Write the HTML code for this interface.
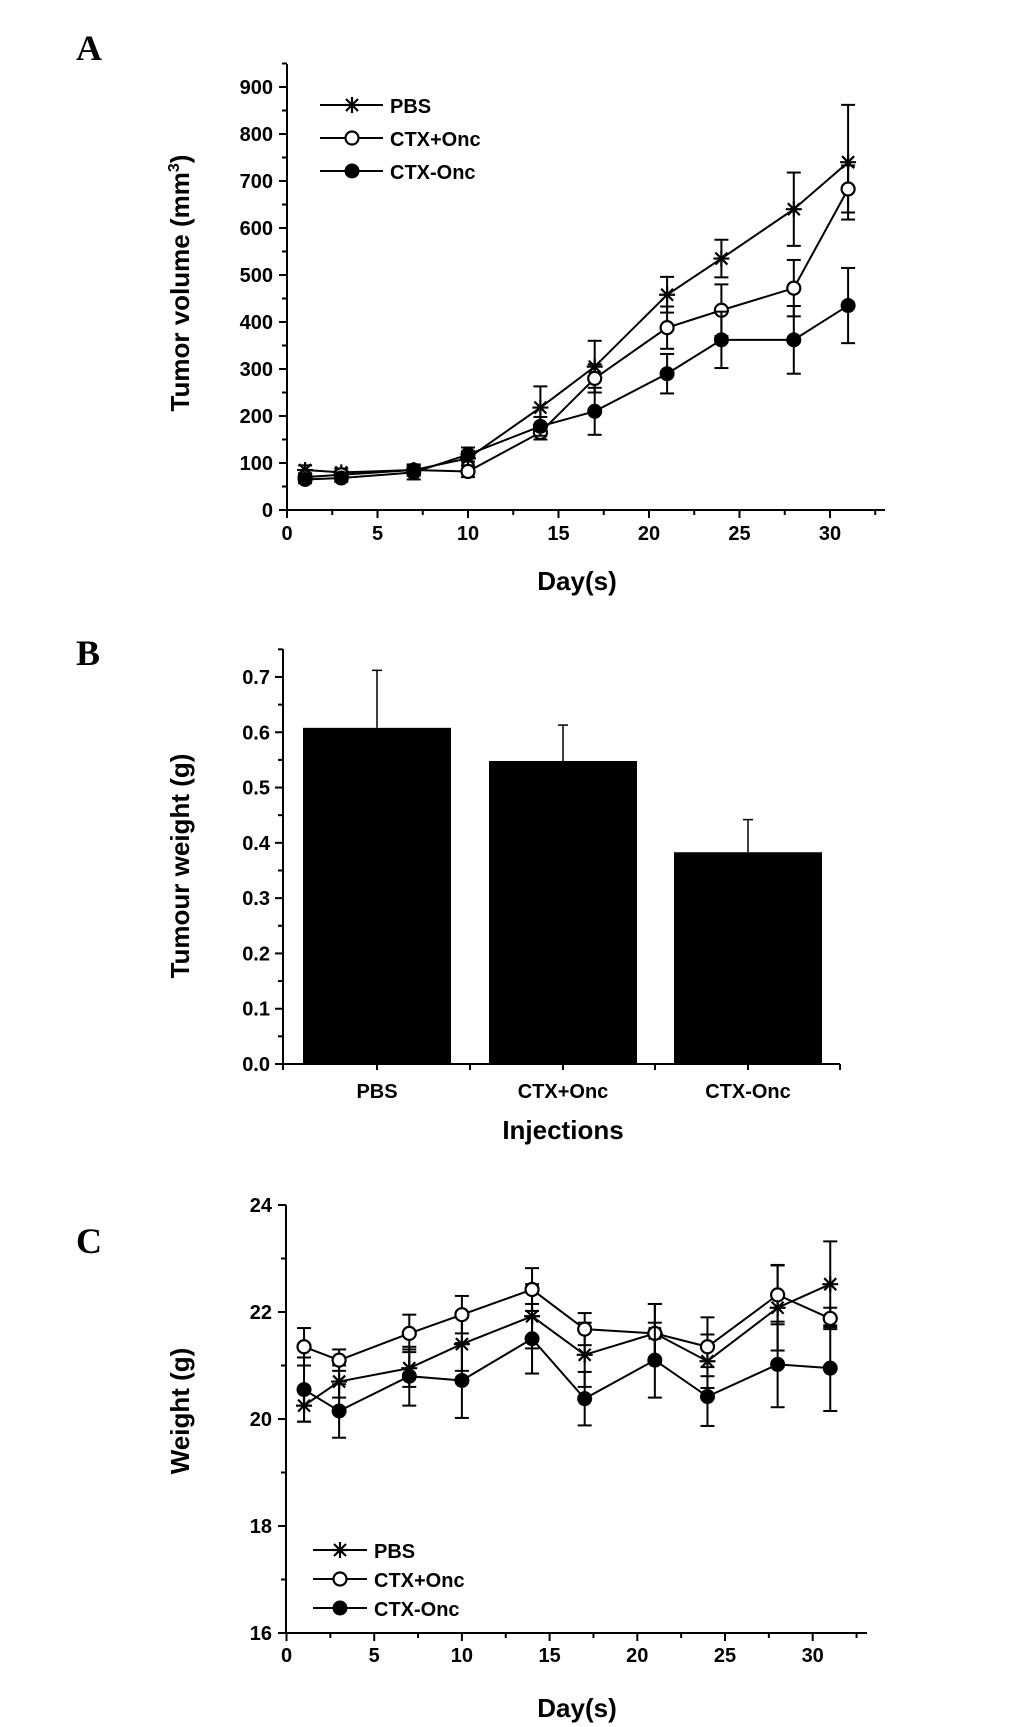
<!DOCTYPE html>
<html><head><meta charset="utf-8"><style>
html,body{margin:0;padding:0;background:#fff;}
svg{display:block;}
text{font-family:"Liberation Sans",sans-serif;font-weight:bold;fill:#000;}
.tk{font-size:20px;}
.ttl{font-size:26px;}
.pl{font-family:"Liberation Serif",serif;font-size:36px;}
</style></head><body>
<svg id="fig" width="1033" height="1727" viewBox="0 0 1033 1727" xmlns="http://www.w3.org/2000/svg">
<text class="pl" x="76" y="60">A</text>
<text class="pl" x="76" y="665">B</text>
<text class="pl" x="76" y="1253">C</text>
<g id="gA"></g>
<g id="gB"></g>
<g id="gC"></g>
</svg>
<script>
const days = [1,3,7,10,14,17,21,24,28,31];
const seriesNames = ["PBS","CTX+Onc","CTX-Onc"];
const volPBS = [85,80,85,110,218,305,458,535,640,740];
const volPBSErr = [10,8,12,15,45,55,38,40,78,122];
const volCtxOn = [70,75,85,82,165,280,388,425,472,683];
const volCtxOnErr = [8,8,10,12,15,30,45,55,60,50];
const volCtxOff = [65,68,80,118,178,210,290,362,362,435];
const volCtxOffErr = [8,8,15,15,20,50,42,60,72,80];
const volTicks = [0,100,200,300,400,500,600,700,800,900];
const dayTicks = [0,5,10,15,20,25,30];
const barCats = ["PBS","CTX+Onc","CTX-Onc"];
const barVals = [0.608,0.548,0.383];
const barErr = [0.104,0.065,0.059];
const wTicks = ["0.0","0.1","0.2","0.3","0.4","0.5","0.6","0.7"];
const wtPBS = [20.25,20.7,20.95,21.4,21.92,21.2,21.6,21.08,22.08,22.52];
const wtPBSErr = [0.3,0.3,0.35,0.5,0.6,0.6,0.55,0.5,0.8,0.8];
const wtCtxOn = [21.35,21.1,21.6,21.95,22.42,21.68,21.6,21.35,22.32,21.88];
const wtCtxOnErr = [0.35,0.2,0.35,0.35,0.4,0.3,0.55,0.55,0.55,0.2];
const wtCtxOff = [20.55,20.15,20.8,20.72,21.5,20.38,21.1,20.42,21.02,20.95];
const wtCtxOffErr = [0.6,0.5,0.55,0.7,0.65,0.5,0.7,0.55,0.8,0.8];
const bwTicks = [16,18,20,22,24];

const NS="http://www.w3.org/2000/svg";
function mk(parent,tag,attrs){const e=document.createElementNS(NS,tag);for(const k in attrs)e.setAttribute(k,attrs[k]);parent.appendChild(e);return e;}
function line(p,x1,y1,x2,y2,w){return mk(p,"line",{x1:x1,y1:y1,x2:x2,y2:y2,stroke:"#000","stroke-width":w||2});}
function txt(p,x,y,s,cls,anchor){const t=mk(p,"text",{x:x,y:y,class:cls,"text-anchor":anchor||"middle"});t.textContent=s;return t;}
function marker(p,kind,x,y){
  let g=mk(p,"g",{});
  if(kind===0){
    line(g,x-8,y,x+8,y,2.2);line(g,x,y-8,x,y+8,2.2);
    line(g,x-6,y-6,x+6,y+6,2.2);line(g,x-6,y+6,x+6,y-6,2.2);
  } else if(kind===1){
    mk(g,"circle",{cx:x,cy:y,r:6.5,fill:"#fff",stroke:"#000","stroke-width":2.2});
  } else {
    mk(g,"circle",{cx:x,cy:y,r:7.5,fill:"#000"});
  }
  return g;
}
function errbar(p,x,y1,y2){line(p,x,y1,x,y2,2);line(p,x-7,y1,x+7,y1,2);line(p,x-7,y2,x+7,y2,2);}

/* Panel A */
(function(){
  const g=document.getElementById("gA");
  const X=d=>287+d*18.1, Y=v=>510-v*0.47;
  const ax=line(g,287,64,287,510);
  
  
  const bx=line(g,287,510,885,510);
  
  
  for(let v=0;v<=950;v+=50){line(g,287,Y(v),v%100===0?279:282,Y(v),2);}
  volTicks.forEach(v=>{const t=txt(g,273,Y(v)+7,String(v),"tk","end");
    
    });
  for(let d=0;d<=32.5;d+=2.5){line(g,X(d),510,X(d),d%5===0?518:515,2);}
  dayTicks.forEach(d=>{const t=txt(g,X(d),540,String(d),"tk");
    
    });
  const yt=txt(g,0,0,"","ttl");
  yt.setAttribute("transform","translate(189,283) rotate(-90)");
  yt.innerHTML='Tumor volume (mm<tspan dy="-10" font-size="16">3</tspan><tspan dy="10">)</tspan>';
  
  
  const xt=txt(g,577,590,"Day(s)","ttl");
  
  
  const vals=[volPBS,volCtxOn,volCtxOff], errs=[volPBSErr,volCtxOnErr,volCtxOffErr];
  vals.forEach((s,k)=>{
    const sg=mk(g,"g",{});
    
    
    mk(sg,"polyline",{points:days.map((d,i)=>X(d)+","+Y(s[i])).join(" "),fill:"none",stroke:"#000","stroke-width":2});
    days.forEach((d,i)=>errbar(sg,X(d),Y(s[i]+errs[k][i]),Y(s[i]-errs[k][i])));
    days.forEach((d,i)=>marker(sg,k,X(d),Y(s[i])));
  });
  const ly=[105,138,171];
  seriesNames.forEach((n,k)=>{
    const lg=mk(g,"g",{});
    
    
    line(lg,320,ly[k],383,ly[k],2);marker(lg,k,352,ly[k]);
    txt(lg,390,ly[k]+8,n,"tk","start").setAttribute("font-size","22");
  });
})();

/* Panel B */
(function(){
  const g=document.getElementById("gB");
  const Y=v=>1064-v*552.9;
  const cx=[377,563,748];
  const ax=line(g,283,649,283,1064);
  
  
  const bx=line(g,283,1064,840,1064);
  
  
  for(let i=0;i<=15;i++){const v=i*0.05;line(g,283,Y(v),i%2===0?275:278,Y(v),2);}
  wTicks.forEach(s=>{const t=txt(g,270,Y(parseFloat(s))+7,s,"tk","end");
    
    });
  [283,470,655,840].forEach(x=>line(g,x,1064,x,1070,2));
  barCats.forEach((c,i)=>{
    const r=mk(g,"rect",{x:cx[i]-74,y:Y(barVals[i]),width:148,height:Y(0)-Y(barVals[i]),fill:"#000"});
    
    
    line(g,cx[i],Y(barVals[i]),cx[i],Y(barVals[i]+barErr[i]),1.5);
    line(g,cx[i]-5,Y(barVals[i]+barErr[i]),cx[i]+5,Y(barVals[i]+barErr[i]),1.5);
    line(g,cx[i],1064,cx[i],1070,2);
    const t=txt(g,cx[i],1098,c,"tk");
    
    
  });
  const yt=txt(g,0,0,"Tumour weight (g)","ttl");
  yt.setAttribute("transform","translate(189,866) rotate(-90)");
  
  
  const xt=txt(g,563,1139,"Injections","ttl");
  
  
})();

/* Panel C */
(function(){
  const g=document.getElementById("gC");
  const X=d=>286.5+d*17.54, Y=v=>1205+(24-v)*53.5;
  const ax=line(g,286,1205,286,1633);
  
  
  const bx=line(g,286,1633,867,1633);
  
  
  for(let v=16;v<=24;v++){line(g,286,Y(v),v%2===0?278:281,Y(v),2);}
  bwTicks.forEach(v=>{const t=txt(g,272,Y(v)+7,String(v),"tk","end");
    
    });
  for(let d=0;d<=32.5;d+=2.5){line(g,X(d),1633,X(d),d%5===0?1641:1638,2);}
  dayTicks.forEach(d=>{const t=txt(g,X(d),1662,String(d),"tk");
    
    });
  const yt=txt(g,0,0,"Weight (g)","ttl");
  yt.setAttribute("transform","translate(189,1411) rotate(-90)");
  
  
  const xt=txt(g,577,1717,"Day(s)","ttl");
  
  
  const vals=[wtPBS,wtCtxOn,wtCtxOff], errs=[wtPBSErr,wtCtxOnErr,wtCtxOffErr];
  vals.forEach((s,k)=>{
    const sg=mk(g,"g",{});
    
    
    mk(sg,"polyline",{points:days.map((d,i)=>X(d)+","+Y(s[i])).join(" "),fill:"none",stroke:"#000","stroke-width":2});
    days.forEach((d,i)=>errbar(sg,X(d),Y(s[i]+errs[k][i]),Y(s[i]-errs[k][i])));
    days.forEach((d,i)=>marker(sg,k,X(d),Y(s[i])));
  });
  const ly=[1550,1579,1608];
  seriesNames.forEach((n,k)=>{
    const lg=mk(g,"g",{});
    
    
    line(lg,313,ly[k],367,ly[k],2);marker(lg,k,340,ly[k]);
    txt(lg,374,ly[k]+8,n,"tk","start");
  });
})();
</script>
</body></html>
